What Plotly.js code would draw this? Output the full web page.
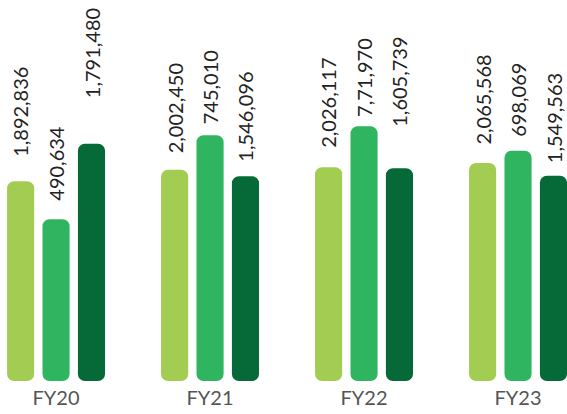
<!DOCTYPE html>
<html>
<head>
<meta charset="utf-8">
<script src="https://cdn.plot.ly/plotly-3.0.1.min.js"></script>
<style>html,body{margin:0;padding:0;background:#fff}#chart{width:567px;height:414px}</style>
</head>
<body>
<div id="chart"></div>
<script>
const categories = ['FY20', 'FY21', 'FY22', 'FY23'];
const seriesA = [1892836, 2002450, 2026117, 2065568];
const seriesB = [490634, 745010, 771970, 698069];
const seriesC = [1791480, 1546096, 1605739, 1549563];
const labelsA = ['1,892,836', '2,002,450', '2,026,117', '2,065,568'];
const labelsB = ['490,634', '745,010', '7,71,970', '698,069'];
const labelsC = ['1,791,480', '1,546,096', '1,605,739', '1,549,563'];

// styling / layout
const colors = ['#a2cd52', '#2fb45f', '#056a38'];
const yTops = [3.61e6, 1.155e6, 2.876e6];
const centers = [-0.23, 0, 0.23];
const barW = 0.176;
const labelGaps = [
  [22, 14, 17, 16],
  [16, 9, 7, 12],
  [44, 13, 40, 11]
];
const FONT = 'Lato, "Open Sans", sans-serif';

const series = [seriesA, seriesB, seriesC];
const labels = [labelsA, labelsB, labelsC];
const axisNames = ['y', 'y2', 'y3'];
const xs = categories.map((c, i) => i);

const traces = [];
const annotations = [];
series.forEach((vals, s) => {
  traces.push({
    type: 'bar', x: xs, y: vals, base: vals.map(() => 0), yaxis: axisNames[s], width: barW,
    offset: centers[s] - barW / 2,
    marker: {color: colors[s], cornerradius: 7, line: {width: 0}},
    hoverinfo: 'skip', showlegend: false
  });
  vals.forEach((v, i) => {
    annotations.push({
      x: xs[i] + centers[s], y: v, xref: 'x', yref: axisNames[s],
      text: labels[s][i], showarrow: false, textangle: -90,
      xanchor: 'center', yanchor: 'bottom', yshift: labelGaps[s][i],
      font: {family: FONT, size: 20, color: '#222'}
    });
  });
});

const hiddenY = (top) => ({range: [0, top], visible: false, fixedrange: true});

const layout = {
  width: 567, height: 414,
  margin: {l: 0, r: 0, t: 0, b: 33},
  paper_bgcolor: '#fff', plot_bgcolor: '#fff',
  barmode: 'overlay',
  xaxis: {
    range: [-0.364, 3.318], tickmode: 'array', tickvals: xs, ticktext: categories,
    showgrid: false, zeroline: false, showline: false, ticks: '',
    ticklabelstandoff: 3,
    tickfont: {family: FONT, size: 20, color: '#555'}, fixedrange: true
  },
  yaxis: hiddenY(yTops[0]),
  yaxis2: Object.assign(hiddenY(yTops[1]), {overlaying: 'y'}),
  yaxis3: Object.assign(hiddenY(yTops[2]), {overlaying: 'y'}),
  annotations: annotations,
  showlegend: false
};

Plotly.newPlot('chart', traces, layout, {displayModeBar: false, staticPlot: true});
</script>
</body>
</html>
